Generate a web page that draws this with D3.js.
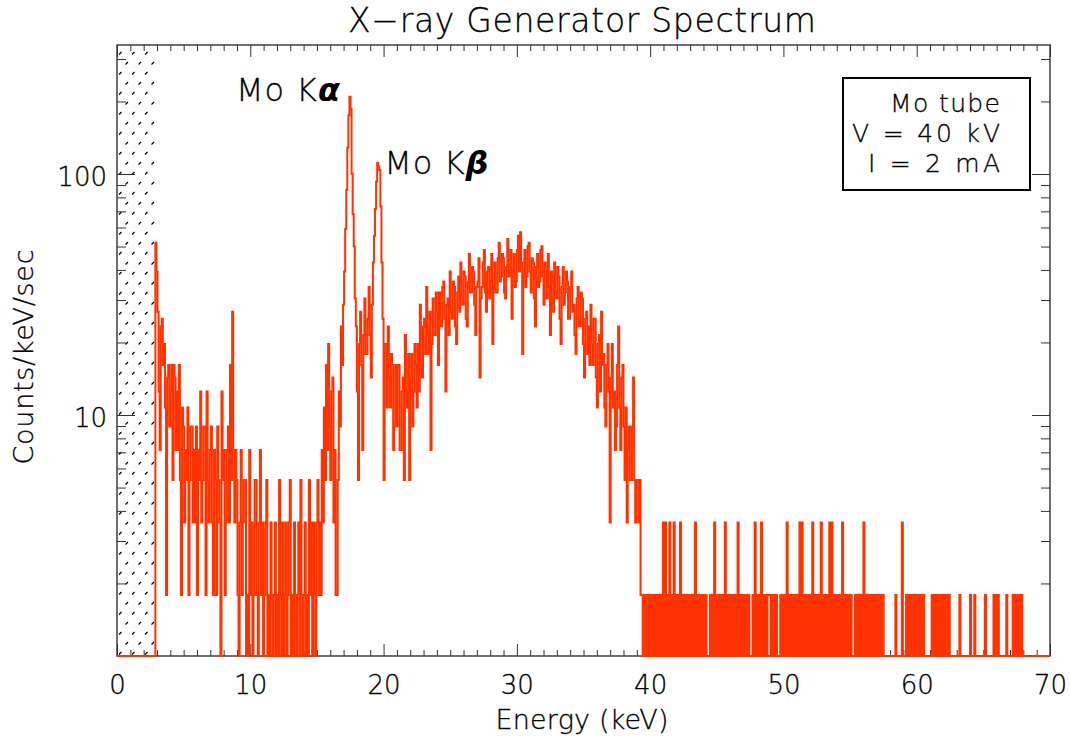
<!DOCTYPE html>
<html>
<head>
<meta charset="utf-8">
<script src="https://cdn.jsdelivr.net/npm/d3@7"></script>
<style>
  body { margin: 0; background: #fff; }
  svg { display: block; font-family: 'DejaVu Sans', sans-serif; font-weight: 200; }
  svg text { stroke: #000; stroke-width: 0.3px; }
</style>
</head>
<body>
<div id="chart"></div>
<script>
'use strict'

// counts per channel, channel i covers [i*channelWidth, (i+1)*channelWidth) keV
const channelWidth = 0.08
const countScale = 1.79 // counts/keV/sec for one recorded count

// 0 - 17 keV (below 2.9 keV nothing gets through the threshold)
const countsLow = [
  0, 0, 0, 0, 0, 0, 0, 0, 0, 0,
  0, 0, 0, 0, 0, 0, 0, 0, 0, 0,
  0, 0, 0, 0, 0, 0, 0, 0, 0, 0,
  0, 0, 0, 0, 0, 0, 29, 22, 15, 7,
  4, 13, 14, 9, 11, 6, 1, 8, 9, 5,
  7, 9, 3, 9, 8, 4, 7, 4, 9, 3,
  1, 6, 5, 2, 4, 3, 6, 1, 3, 5,
  5, 2, 4, 2, 5, 1, 4, 3, 7, 2,
  3, 5, 5, 1, 7, 3, 2, 4, 5, 2,
  1, 4, 3, 1, 5, 3, 2, 0, 7, 3,
  4, 1, 2, 4, 5, 2, 9, 3, 15, 4,
  2, 4, 3, 1, 0, 2, 4, 1, 2, 3,
  3, 0, 1, 0, 4, 1, 2, 0, 1, 3,
  3, 1, 0, 2, 4, 1, 2, 0, 1, 2,
  3, 0, 1, 0, 2, 1, 0, 1, 2, 0,
  1, 0, 3, 1, 0, 2, 0, 1, 2, 0,
  1, 2, 3, 0, 1, 0, 2, 1, 0, 1,
  2, 0, 3, 1, 0, 1, 2, 0, 1, 0,
  3, 1, 2, 0, 2, 1, 0, 2, 3, 1,
  2, 1, 4, 2, 6, 3, 9, 4, 11, 5,
  3, 7, 8, 2, 4, 1, 1, 3, 7, 5,
  13, 9
]
// 17 - 21 keV, Mo K-alpha and K-beta
const countsLines = [
  16, 22, 33, 48, 72, 98, 117, 104, 56, 38,
  28, 17, 13, 7, 3, 11, 15, 9, 4, 12,
  17, 10, 10, 14, 19, 12, 8, 16, 24, 31,
  40, 52, 62, 60, 58, 41, 24, 14, 3, 11,
  11, 6, 13, 8, 6, 10, 9, 4, 5, 9
]
// 21 - 39.5 keV, bremsstrahlung hump
const countsContinuum = [
  5, 9, 9, 4, 4, 7, 8, 3, 12, 7,
  6, 10, 3, 8, 10, 5, 7, 11, 9, 6,
  11, 7, 16, 9, 8, 13, 14, 10, 19, 12,
  10, 15, 4, 11, 17, 12, 12, 18, 15, 9,
  18, 13, 13, 19, 20, 14, 7, 16, 17, 12,
  22, 15, 14, 20, 19, 13, 11, 18, 21, 15,
  24, 17, 16, 22, 21, 14, 13, 20, 26, 18,
  18, 23, 22, 16, 12, 19, 20, 25, 8, 17,
  19, 24, 27, 18, 15, 22, 23, 17, 20, 26,
  11, 19, 24, 18, 18, 25, 29, 20, 21, 26,
  25, 18, 17, 23, 30, 21, 22, 27, 14, 22,
  26, 19, 20, 27, 31, 22, 32, 24, 10, 21,
  27, 19, 21, 28, 29, 22, 18, 25, 24, 17,
  13, 23, 26, 19, 20, 27, 28, 21, 16, 24,
  22, 17, 26, 19, 12, 22, 20, 15, 24, 18,
  17, 23, 21, 14, 11, 19, 23, 16, 18, 22,
  20, 14, 14, 19, 22, 15, 16, 12, 10, 17,
  19, 13, 13, 18, 17, 11, 8, 14, 15, 10,
  13, 9, 16, 11, 9, 14, 14, 8, 6, 11,
  12, 7, 15, 9, 10, 6, 5, 9, 11, 7,
  2, 8, 11, 6, 7, 4, 5, 9, 13, 6,
  4, 8, 9, 5, 3, 6, 2, 4, 5, 3,
  3, 5, 8, 3, 2, 3, 3, 2, 3, 1,
  1, 0
]
// 39.5 - 57.6 keV, single counts above the tube voltage
const countsTail = [
  1, 0, 1, 0, 1, 0, 1, 0, 1, 0,
  1, 0, 1, 0, 1, 0, 1, 0, 2, 0,
  2, 0, 1, 0, 2, 0, 1, 0, 2, 0,
  1, 0, 1, 0, 2, 0, 1, 0, 1, 0,
  1, 0, 1, 0, 1, 0, 1, 0, 2, 0,
  1, 0, 1, 0, 1, 0, 1, 0, 1, 0,
  0, 0, 1, 0, 1, 0, 2, 0, 1, 0,
  1, 0, 1, 0, 1, 0, 2, 0, 1, 0,
  1, 0, 1, 0, 1, 0, 1, 0, 2, 0,
  1, 0, 1, 0, 1, 0, 1, 0, 1, 0,
  0, 0, 1, 0, 2, 0, 1, 0, 1, 0,
  2, 0, 1, 0, 1, 0, 1, 1, 1, 0,
  1, 0, 1, 0, 1, 0, 0, 0, 1, 0,
  1, 0, 1, 0, 2, 0, 1, 0, 1, 0,
  1, 0, 1, 0, 1, 0, 2, 0, 2, 0,
  1, 0, 1, 0, 1, 0, 1, 0, 2, 0,
  1, 0, 1, 0, 1, 0, 2, 0, 1, 0,
  1, 0, 1, 0, 2, 0, 2, 0, 1, 0,
  1, 0, 1, 0, 1, 0, 2, 0, 1, 0,
  1, 0, 1, 0, 1, 0, 0, 0, 1, 0,
  1, 0, 1, 0, 1, 0, 2, 0, 1, 0,
  1, 0, 1, 0, 1, 0, 1, 0, 1, 0,
  1, 0, 1, 0, 1, 0
]
// 57.6 - 70 keV, sparse counts
const countsHighTail = [
  0, 0, 0, 0, 0, 0, 0, 0, 0, 0,
  1, 0, 0, 0, 0, 0, 2, 0, 0, 0,
  1, 0, 1, 0, 1, 0, 1, 0, 1, 0,
  1, 0, 1, 0, 1, 0, 1, 0, 0, 0,
  0, 0, 0, 0, 1, 0, 1, 0, 1, 0,
  1, 0, 1, 0, 1, 0, 1, 0, 1, 0,
  1, 0, 0, 0, 0, 0, 0, 0, 0, 0,
  1, 0, 0, 0, 0, 0, 0, 0, 0, 0,
  1, 0, 0, 0, 1, 0, 0, 0, 0, 0,
  0, 0, 0, 0, 1, 0, 0, 0, 0, 0,
  0, 0, 1, 0, 1, 0, 1, 0, 0, 0,
  0, 0, 0, 0, 1, 0, 0, 0, 0, 0,
  1, 0, 1, 0, 1, 0, 1, 0, 1, 0,
  0, 0, 0, 0, 0, 0, 0, 0, 0, 0,
  0, 0, 0, 0, 0, 0, 0, 0, 0, 0,
  0, 0, 0, 0, 0, 0
]

const xTicks = [0, 10, 20, 30, 40, 50, 60, 70]
const yTicks = [10, 100]
const xDomain = [0, 70]
const yDomain = [1, 343]
const thresholdEnergy = 2.85 // hatched: below detector threshold

const titleText = 'X\u2212ray Generator Spectrum'
const xTitle = 'Energy (keV)'
const yTitle = 'Counts/keV/sec'
const legendLines = ['Mo tube', 'V = 40 kV', 'I = 2 mA']
const lineLabels = [
  { name: 'Mo K', greek: '\u03b1', energy: 17.48, value: 209 },
  { name: 'Mo K', greek: '\u03b2', energy: 19.61, value: 110 }
]

const width = 1070,
    height = 738
const plot = { left: 117, right: 1050, top: 45, bottom: 656 }
const red = '#ff3300'

const svg = d3.select('#chart').append('svg')
  .attr('width', width)
  .attr('height', height)

const x = d3.scaleLinear().domain(xDomain).range([plot.left, plot.right])
const y = d3.scaleLog().domain(yDomain).range([plot.bottom, plot.top])

const counts = countsLow.concat(countsLines, countsContinuum, countsTail, countsHighTail)
const spectrum = counts.map((c, i) => ({ e: i * channelWidth, v: c * countScale }))
spectrum.push({ e: counts.length * channelWidth, v: spectrum[spectrum.length - 1].v })

const defs = svg.append('defs')
const hatch = defs.append('pattern')
  .attr('id', 'hatch')
  .attr('patternUnits', 'userSpaceOnUse')
  .attr('x', plot.left).attr('y', plot.top)
  .attr('width', 13).attr('height', 20)
hatch.append('path')
  .attr('d', 'M2,9.5L4.5,7M8.5,19.5L11,17')
  .attr('stroke', '#000')
  .attr('stroke-width', 1.2)

defs.append('clipPath').attr('id', 'plot-clip')
  .append('rect')
  .attr('x', plot.left).attr('y', plot.top)
  .attr('width', plot.right - plot.left)
  .attr('height', plot.bottom - plot.top + 3)

// threshold region
svg.append('rect')
  .attr('x', x(0)).attr('y', plot.top)
  .attr('width', x(thresholdEnergy) - x(0))
  .attr('height', plot.bottom - plot.top)
  .attr('fill', 'url(#hatch)')

// frame + inward ticks on all four sides
svg.append('rect')
  .attr('x', plot.left).attr('y', plot.top)
  .attr('width', plot.right - plot.left)
  .attr('height', plot.bottom - plot.top)
  .attr('fill', 'none')
  .attr('stroke', '#222')
  .attr('stroke-width', 1.3)

const xMinor = d3.range(xDomain[0], xDomain[1] + 1, 1).filter(d => d % 10 !== 0)
const yMinor = []
for (let dec = 1; dec < yDomain[1]; dec *= 10) {
  for (let k = 2; k <= 9; k++) if (k * dec < yDomain[1]) yMinor.push(k * dec)
}

const styleAxis = (g) => {
  g.select('.domain').remove()
  g.attr('color', '#333')
  g.selectAll('.tick line').attr('stroke-width', 1)
  g.selectAll('text')
    .attr('font-family', "'DejaVu Sans', sans-serif")
    .attr('font-weight', 200)
    .attr('font-size', 26)
    .attr('fill', '#000')
}

const axes = svg.append('g').attr('class', 'axes')

axes.append('g')
  .attr('transform', `translate(0,${plot.bottom})`)
  .call(d3.axisBottom(x).tickValues(xTicks).tickSize(-12).tickPadding(20).tickFormat(d3.format('d')))
  .call(styleAxis)
axes.append('g')
  .attr('transform', `translate(0,${plot.bottom})`)
  .call(d3.axisBottom(x).tickValues(xMinor).tickSize(-6).tickFormat(''))
  .call(styleAxis)
axes.append('g')
  .attr('transform', `translate(0,${plot.top})`)
  .call(d3.axisTop(x).tickValues(xTicks).tickSize(-12).tickFormat(''))
  .call(styleAxis)
axes.append('g')
  .attr('transform', `translate(0,${plot.top})`)
  .call(d3.axisTop(x).tickValues(xMinor).tickSize(-6).tickFormat(''))
  .call(styleAxis)

axes.append('g')
  .attr('transform', `translate(${plot.left},0)`)
  .call(d3.axisLeft(y).tickValues(yTicks).tickSize(-18).tickPadding(10).tickFormat(d3.format('d')))
  .call(styleAxis)
  .call(g => g.selectAll('text').attr('dy', '0.46em'))
axes.append('g')
  .attr('transform', `translate(${plot.left},0)`)
  .call(d3.axisLeft(y).tickValues(yMinor).tickSize(-9).tickFormat(''))
  .call(styleAxis)
axes.append('g')
  .attr('transform', `translate(${plot.right},0)`)
  .call(d3.axisRight(y).tickValues(yTicks).tickSize(-18).tickFormat(''))
  .call(styleAxis)
axes.append('g')
  .attr('transform', `translate(${plot.right},0)`)
  .call(d3.axisRight(y).tickValues(yMinor).tickSize(-9).tickFormat(''))
  .call(styleAxis)

// spectrum, histogram style; empty channels sit on the bottom axis
const line = d3.line()
  .x(d => x(d.e))
  .y(d => y(Math.max(d.v, yDomain[0])))
  .curve(d3.curveStepAfter)

svg.append('path')
  .datum(spectrum)
  .attr('clip-path', 'url(#plot-clip)')
  .attr('fill', 'none')
  .attr('stroke', red)
  .attr('stroke-width', 2)
  .attr('d', line)

// titles
svg.append('text')
  .attr('x', 582).attr('y', 32)
  .attr('text-anchor', 'middle')
  .attr('font-size', 33)
  .attr('textLength', 468)
  .text(titleText)

svg.append('text')
  .attr('x', 582).attr('y', 729)
  .attr('text-anchor', 'middle')
  .attr('font-size', 27)
  .attr('textLength', 173)
  .text(xTitle)

svg.append('text')
  .attr('transform', 'translate(33,357) rotate(-90)')
  .attr('text-anchor', 'middle')
  .attr('font-size', 27)
  .attr('textLength', 215)
  .text(yTitle)

// line labels
lineLabels.forEach((d, i) => {
  const t = svg.append('text')
    .attr('font-size', 32)
    .attr('textLength', 104)
  if (i === 0) {
    t.attr('x', x(d.energy) - 10).attr('y', y(d.value) + 4).attr('text-anchor', 'end')
  } else {
    t.attr('x', x(d.energy) + 6).attr('y', y(d.value) + 10).attr('text-anchor', 'start')
  }
  t.append('tspan').text(d.name)
  t.append('tspan')
    .attr('font-style', 'italic')
    .attr('font-weight', 'bold')
    .attr('stroke-width', 0)
    .text(d.greek)
})

// info box
const box = svg.append('g')
box.append('rect')
  .attr('x', 843).attr('y', 78)
  .attr('width', 187).attr('height', 112)
  .attr('fill', '#fff')
  .attr('stroke', '#000')
  .attr('stroke-width', 2)
const legendWidths = [110, 148, 132]
legendLines.forEach((s, i) => {
  box.append('text')
    .attr('x', 1000).attr('y', 112 + i * 30)
    .attr('text-anchor', 'end')
    .attr('font-size', 25)
    .attr('textLength', legendWidths[i])
    .text(s)
})
</script>
</body>
</html>
